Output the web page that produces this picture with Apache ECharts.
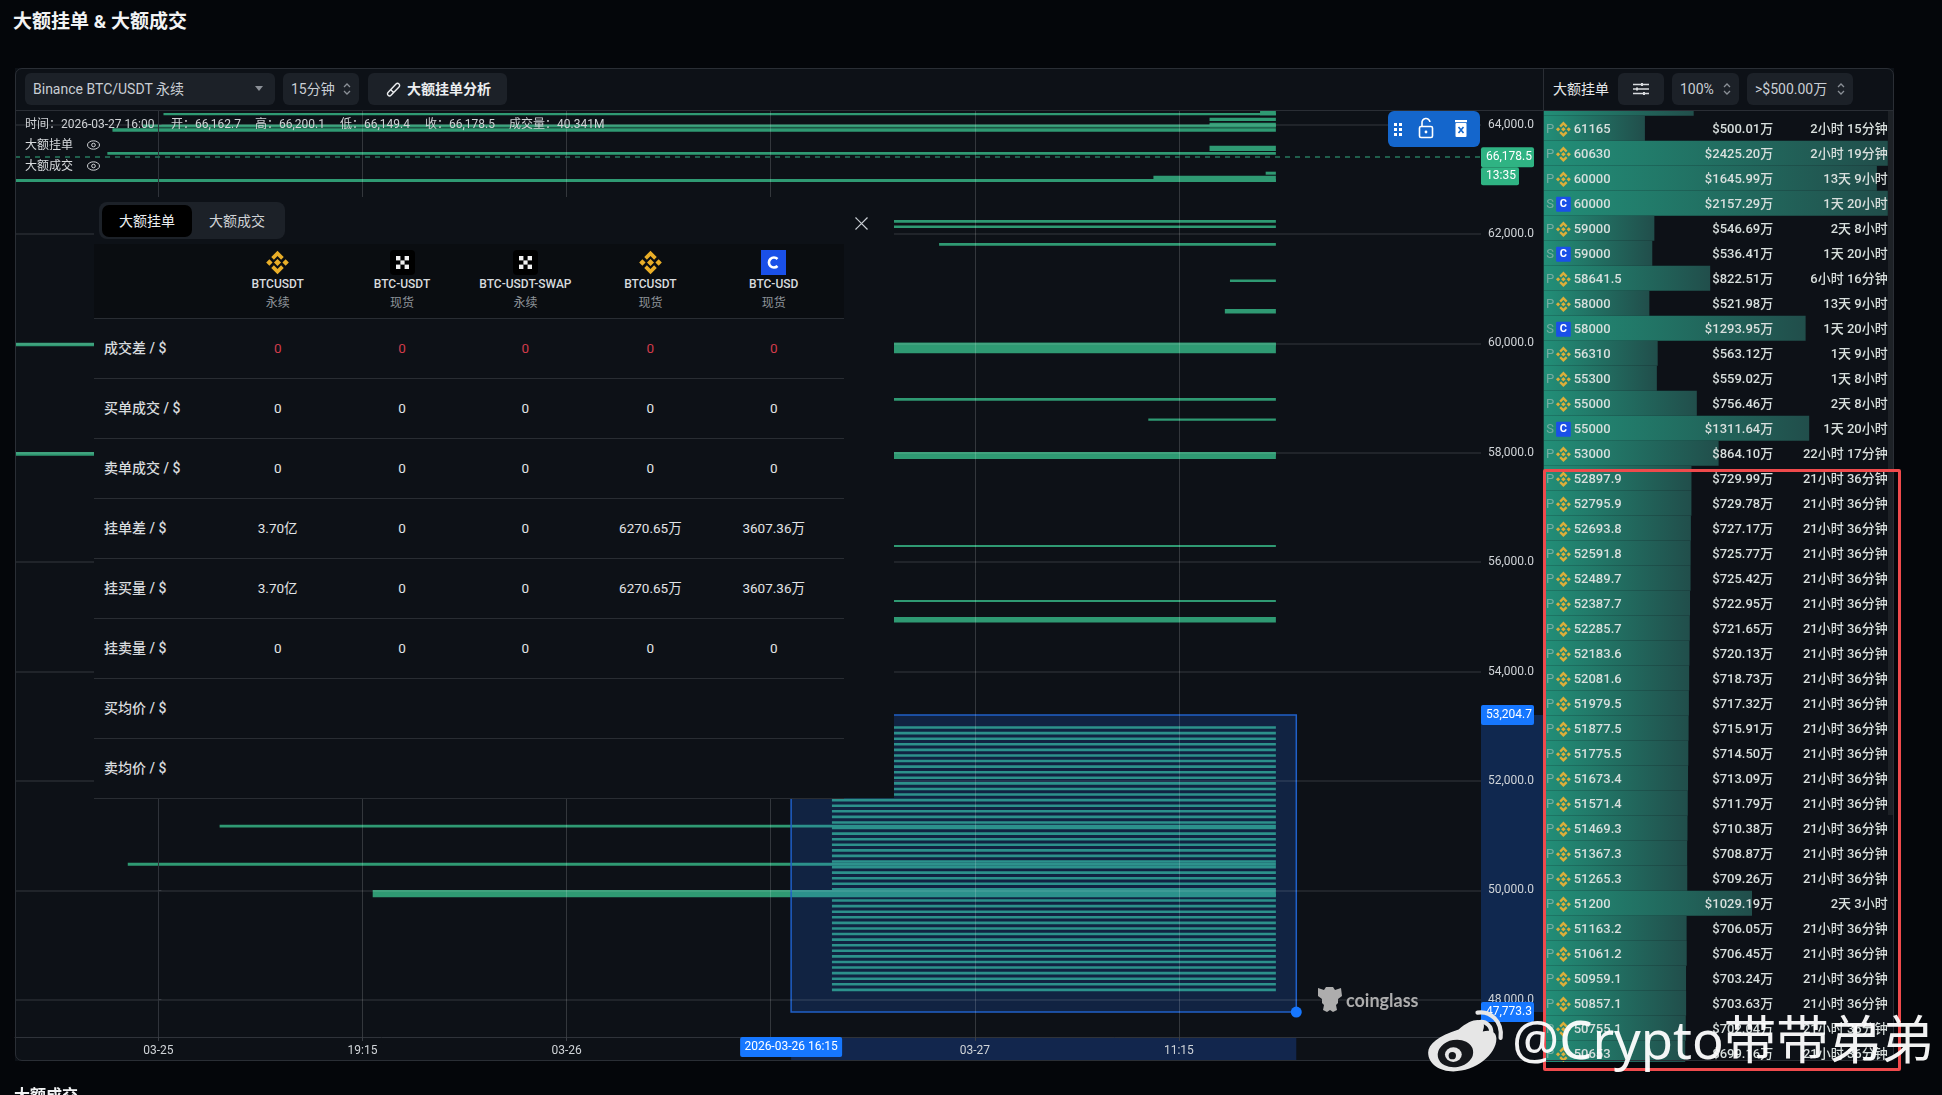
<!DOCTYPE html>
<html lang="zh">
<head>
<meta charset="utf-8">
<title>大额挂单 & 大额成交</title>
<script src="https://cdn.jsdelivr.net/npm/echarts@6/dist/echarts.min.js"></script>
<style>
html,body{margin:0;padding:0;width:1942px;height:1095px;overflow:hidden;background:#04060a;
  font-family:Roboto,"Noto Sans CJK SC",sans-serif;color:#d8dbde;}
.abs{position:absolute;white-space:nowrap;}
.updn{position:absolute;right:7px;top:8px;}
#card{position:absolute;left:15px;top:68px;width:1879px;height:993px;background:#0d1117;}
#frame{position:absolute;left:15px;top:68px;width:1879px;height:993px;box-sizing:border-box;border:1px solid #2a2e35;border-radius:7px;z-index:4;pointer-events:none;}
#chart{position:absolute;left:0;top:0;width:1942px;height:1095px;z-index:1;}
#hdr{position:absolute;left:16px;top:69px;width:1877px;background:#0d1117;border-bottom:1px solid #2a2e35;box-sizing:border-box;height:42px;z-index:2;}
#hdrsep{position:absolute;left:1543px;top:69px;width:1px;height:41px;background:#2a2e35;z-index:3;}
#cover{position:absolute;left:0;top:1062px;width:1942px;height:33px;background:#04060a;z-index:2;}
#tbl{position:absolute;left:94px;top:197px;width:800px;height:601px;background:#0d1117;z-index:2;}
#tbl .th{position:absolute;left:0;top:47px;width:750px;height:74px;background:#0a0d11;}
#tbl .ln{position:absolute;left:0;width:750px;height:1px;background:#292d33;}
#tbl .c{position:absolute;transform:translateX(-50%);font-size:13.5px;white-space:nowrap;}
#redbox{position:absolute;left:1543px;top:469px;width:358px;height:602px;box-sizing:border-box;border:3px solid #ef4a4c;border-radius:2px;z-index:5;}
#wb{position:absolute;left:1512px;top:1004px;font-size:52.5px;line-height:70px;color:rgba(255,255,255,.95);z-index:6;white-space:nowrap;font-family:"Noto Sans","Noto Sans CJK SC",sans-serif;font-weight:400;}
</style>
</head>
<body>
<div class="abs" style="left:13px;top:9px;font-size:19px;font-weight:700;color:#f2f3f4;line-height:26px;">大额挂单 &amp; 大额成交</div>
<div id="card"></div>
<div id="chart"></div>
<div id="hdr"></div>
<div id="hdrsep"></div>
<div id="cover"><div class="abs" style="left:14px;top:24px;font-size:16px;font-weight:700;color:#f2f3f4;line-height:20px;">大额成交</div></div>
<div id="frame"></div>
<div id="ui" style="position:absolute;left:0;top:0;z-index:3;"></div>
<div id="tbl"></div>
<div id="redbox"></div>
<svg class="abs" style="left:1425px;top:1006px;z-index:6;" width="84" height="72" viewBox="0 0 80 68">
  <path fill="#e6e6e6" d="M32 22c10-9 20-11 23-7 2 3 1 6 0 9 7-2 13 0 13 7 0 15-20 31-41 31C14 62 3 55 3 44c0-8 10-16 29-22z"/>
  <ellipse cx="29" cy="45" rx="17" ry="13" fill="#15171b" transform="rotate(-10 29 45)"/>
  <ellipse cx="27" cy="46" rx="8" ry="7" fill="#e6e6e6"/>
  <circle cx="26" cy="47" r="3.5" fill="#15171b"/>
  <path fill="none" stroke="#e6e6e6" stroke-width="4" stroke-linecap="round" d="M50 6c12-2 24 8 22 24M52 15c6-1 12 4 11 11"/>
</svg>
<div id="wb">@Crypto带带弟弟</div>
<svg class="abs" style="left:1317px;top:984px;z-index:3;" width="26" height="30" viewBox="0 0 26 30">
  <path fill="#adadad" d="M1 4l6 2 2-3h7l2 3 6-2 1 8-4 3v4l-2 2 1 5-4 2-3-2-3 2-4-2 1-5-2-2v-4l-4-3z"/>
</svg>
<div class="abs" style="left:1346px;top:989px;z-index:3;font-family:Lato,sans-serif;font-weight:700;font-size:18px;line-height:22px;color:#adadad;">coinglass</div>
<script>
/* large-order walls on the depth chart: start bar, price band */
var wallStart = [431.8,2,412,412,-6,-18,412,-20,434,390,-56.2,250,250,306,420,418,100,-56.2,100,388,100,-56.2,260,280,280,24,-12,84];
var wallHigh  = [64256,64214,64128,64037,64004,63934,63616,63501,63141,63067,63007,62257,62157,61837,61170,60630,60014,60014,59003,58627,58003,58015,56315,55309,55000,51200,50506,50006];
var wallLow   = [64172,64172,64068,63952,63949,63872,63519,63451,63086,62952,62952,62208,62111,61788,61124,60548,59820,59950,58953,58588,57888,57948,56280,55272,54897,51150,50450,49873];
var wallEnd = 438;
/* iceberg ladder inside the selection box */
var ladderPrices = [53000,52897.9,52795.9,52693.8,52591.8,52489.7,52387.7,52285.7,52183.6,52081.6,51979.5,51877.5,51775.5,51673.4,51571.4,51469.3,51367.3,51265.3,51163.2,51061.2,50959.1,50857.1,50755.1,50653,50551,50448.9,50346.9,50244.8,50142.8,50040.8,49938.7,49836.7,49734.6,49632.6,49530.6,49428.5,49326.5,49224.4,49122.4,49020.4,48918.3,48816.3,48714.2,48612.2,48510.2,48408.1,48306.1,48204];
var ladderStart = 264;
/* axes */
var xMin = -56.2, xMax = 518.4;
var xTicks = [0,80,160,240,320,400];
var xLabels = ["03-25","19:15","03-26","","03-27","11:15"];
var yMin = 47318, yMax = 64269;
var yTicks = [48000,50000,52000,54000,56000,58000,60000,62000,64000];
/* selection box and last price marker */
var boxFrom = 248, boxTo = 446, boxLow = 47773.3, boxHigh = 53204.7;
var boxLabelTime = "2026-03-26 16:15";
var priceLineLevel = 63407, priceLineText = "66,178.5", priceCountdown = "13:35";
/* side list */
var listPrices = ["61165","60630","60000","60000","59000","59000","58641.5","58000","58000","56310","55300","55000","55000","53000","52897.9","52795.9","52693.8","52591.8","52489.7","52387.7","52285.7","52183.6","52081.6","51979.5","51877.5","51775.5","51673.4","51571.4","51469.3","51367.3","51265.3","51200","51163.2","51061.2","50959.1","50857.1","50755.1","50653"];
var listKinds  = ["P","P","P","S","P","S","P","P","S","P","P","P","S","P","P","P","P","P","P","P","P","P","P","P","P","P","P","P","P","P","P","P","P","P","P","P","P","P"];
var listUsd    = [500.01,2425.20,1645.99,2157.29,546.69,536.41,822.51,521.98,1293.95,563.12,559.02,756.46,1311.64,864.10,729.99,729.78,727.17,725.77,725.42,722.95,721.65,720.13,718.73,717.32,715.91,714.50,713.09,711.79,710.38,708.87,709.26,1029.19,706.05,706.45,703.24,703.63,702.04,699.16];
var listAges   = ["2小时 15分钟","2小时 19分钟","13天 9小时","1天 20小时","2天 8小时","1天 20小时","6小时 16分钟","13天 9小时","1天 20小时","1天 9小时","1天 8小时","2天 8小时","1天 20小时","22小时 17分钟","21小时 36分钟","21小时 36分钟","21小时 36分钟","21小时 36分钟","21小时 36分钟","21小时 36分钟","21小时 36分钟","21小时 36分钟","21小时 36分钟","21小时 36分钟","21小时 36分钟","21小时 36分钟","21小时 36分钟","21小时 36分钟","21小时 36分钟","21小时 36分钟","21小时 36分钟","2天 3小时","21小时 36分钟","21小时 36分钟","21小时 36分钟","21小时 36分钟","21小时 36分钟","21小时 36分钟"];
var listClippedUsd = 741;
var listAxisMax = 1700;
/* summary table */
var tblCols = ["BTCUSDT","BTC-USDT","BTC-USDT-SWAP","BTCUSDT","BTC-USD"];
var tblKinds = ["永续","现货","永续","现货","现货"];
var tblIcons = ["bn","okx","okx","bn","cb"];
var tblRows = ["成交差 / $","买单成交 / $","卖单成交 / $","挂单差 / $","挂买量 / $","挂卖量 / $","买均价 / $","卖均价 / $"];
var tblDiff     = ["0","0","0","0","0"];
var tblBuyDeal  = ["0","0","0","0","0"];
var tblSellDeal = ["0","0","0","0","0"];
var tblGap      = ["3.70亿","0","0","6270.65万","3607.36万"];
var tblBid      = ["3.70亿","0","0","6270.65万","3607.36万"];
var tblAsk      = ["0","0","0","0","0"];
var tblBuyAvg   = ["","","","",""];
var tblSellAvg  = ["","","","",""];

var FONT = 'Roboto,"Noto Sans CJK SC",sans-serif';
var BN_PATH = "M16 1L24 9L20.6 12.4L16 7.8L11.4 12.4L8 9ZM16 31L24 23L20.6 19.6L16 24.2L11.4 19.6L8 23ZM1.5 16L5.6 11.9L9.7 16L5.6 20.1ZM30.5 16L26.4 11.9L22.3 16L26.4 20.1ZM16 11.5L20.5 16L16 20.5L11.5 16Z";
var UPDN = '<svg class="updn" width="10" height="16" viewBox="0 0 10 16"><path d="M2 6l3-3 3 3M2 10l3 3 3-3" fill="none" stroke="#8b9097" stroke-width="1.3"/></svg>';

function div(parent, css, html){
  var d = document.createElement("div");
  d.style.cssText = css;
  if(html != null) d.innerHTML = html;
  parent.appendChild(d);
  return d;
}
function buildToolbar(){
  var ui = document.getElementById("ui");
  div(ui, "position:absolute;left:25px;top:73px;width:250px;height:32px;line-height:32px;background:#1c2128;border-radius:6px;font-size:14px;color:#c9ced4;padding-left:8px;box-sizing:border-box;white-space:nowrap;",
    'Binance BTC/USDT 永续<svg style="position:absolute;left:230px;top:13px" width="8" height="6"><path d="M0 0h8L4 5z" fill="#8b9097"/></svg>');
  div(ui, "position:absolute;left:283px;top:73px;width:76px;height:32px;line-height:32px;background:#1c2128;border-radius:6px;font-size:14px;color:#c9ced4;padding-left:8px;box-sizing:border-box;white-space:nowrap;", "15分钟"+UPDN);
  div(ui, "position:absolute;left:368px;top:73px;width:139px;height:32px;line-height:32px;background:#1c2128;border-radius:6px;font-size:14px;font-weight:700;color:#eceef0;padding-left:39px;box-sizing:border-box;white-space:nowrap;",
    '<svg style="position:absolute;left:17px;top:8px" width="17" height="17" viewBox="0 0 17 17"><path d="M3 11.5L11 3a2 2 0 0 1 3 3L6 14.2a2 2 0 0 1-3-2.7zM6 9l3 3" fill="none" stroke="#eceef0" stroke-width="1.4"/></svg>大额挂单分析');
  div(ui, "position:absolute;left:1553px;top:80px;font-size:14px;line-height:18px;color:#e4e6e8;white-space:nowrap;", "大额挂单");
  div(ui, "position:absolute;left:1618px;top:73px;width:46px;height:32px;background:#1c2128;border-radius:6px;",
    '<svg style="position:absolute;left:15px;top:9px" width="16" height="14" viewBox="0 0 16 14"><path d="M0 2.5h16M0 7h16M0 11.5h16" stroke="#d8dbde" stroke-width="1.4"/><path d="M9 1v3M4 5.5v3M11 10v3" stroke="#d8dbde" stroke-width="2"/></svg>');
  div(ui, "position:absolute;left:1672px;top:73px;width:67px;height:32px;line-height:32px;background:#1c2128;border-radius:6px;font-size:14px;color:#c9ced4;padding-left:8px;box-sizing:border-box;white-space:nowrap;", "100%"+UPDN);
  div(ui, "position:absolute;left:1747px;top:73px;width:106px;height:32px;line-height:32px;background:#1c2128;border-radius:6px;font-size:14px;color:#c9ced4;padding-left:8px;box-sizing:border-box;white-space:nowrap;", "&gt;$500.00万"+UPDN);
  /* ohlc info line and legend */
  var infoX = [25,171,255,340,425,509];
  var infoT = ["时间：2026-03-27 16:00","开：66,162.7","高：66,200.1","低：66,149.4","收：66,178.5","成交量：40.341M"];
  infoT.forEach(function(t,i){
    div(ui, "position:absolute;left:"+infoX[i]+"px;top:116px;font-size:12px;line-height:16px;color:#d0d3d6;white-space:nowrap;", t);
  });
  var eye = '<svg style="position:absolute;left:62px;top:3px" width="13" height="10" viewBox="0 0 13 10"><ellipse cx="6.5" cy="5" rx="6" ry="4.2" fill="none" stroke="#d0d3d6" stroke-width="1"/><circle cx="6.5" cy="5" r="1.8" fill="none" stroke="#d0d3d6" stroke-width="1"/></svg>';
  div(ui, "position:absolute;left:25px;top:137px;font-size:12px;line-height:16px;color:#d8dbde;white-space:nowrap;", "大额挂单"+eye);
  div(ui, "position:absolute;left:25px;top:158px;font-size:12px;line-height:16px;color:#d8dbde;white-space:nowrap;", "大额成交"+eye);
  /* blue drawing toolbar */
  div(ui, "position:absolute;left:1388px;top:111px;width:92px;height:36px;background:#1466cc;border-radius:6px;",
    '<svg width="92" height="36" viewBox="0 0 92 36"><g fill="#fff"><rect x="6" y="12" width="3" height="3"/><rect x="11" y="12" width="3" height="3"/><rect x="6" y="17" width="3" height="3"/><rect x="11" y="17" width="3" height="3"/><rect x="6" y="22" width="3" height="3"/><rect x="11" y="22" width="3" height="3"/></g>'+
    '<rect x="31.5" y="15.5" width="13" height="11" rx="1.5" fill="none" stroke="#fff" stroke-width="1.6"/><path d="M34 15v-3a4 4 0 0 1 8-1" fill="none" stroke="#fff" stroke-width="1.6"/><circle cx="38" cy="21" r="1.4" fill="#fff"/>'+
    '<rect x="67" y="9" width="12" height="2.2" fill="#fff"/><rect x="67.5" y="12" width="11" height="14" rx="1" fill="#fff"/><path d="M70.5 16l5 6M75.5 16l-5 6" stroke="#1466cc" stroke-width="1.6"/></svg>');
  /* list scrollbar */
  div(ui, "position:absolute;left:1888px;top:111px;width:5px;height:704px;background:#1d2126;");
}
function iconSvg(kind){
  if(kind==="bn") return '<svg width="25" height="25" viewBox="0 0 32 32"><path fill="#e9ae28" d="'+BN_PATH+'"/></svg>';
  if(kind==="okx") return '<svg width="25" height="25" viewBox="0 0 25 25"><rect width="25" height="25" rx="4" fill="#000"/><g fill="#f2f2f2"><rect x="6" y="6" width="4.4" height="4.4"/><rect x="14.6" y="6" width="4.4" height="4.4"/><rect x="10.4" y="10.4" width="4.2" height="4.2"/><rect x="6" y="14.6" width="4.4" height="4.4"/><rect x="14.6" y="14.6" width="4.4" height="4.4"/></g></svg>';
  return '<svg width="25" height="25" viewBox="0 0 25 25"><rect width="25" height="25" fill="#1a50e8"/><path d="M16.5 9a5 5 0 1 0 0 7" fill="none" stroke="#fff" stroke-width="2.6"/></svg>';
}
function buildTable(){
  var t = document.getElementById("tbl");
  var colX = [183.7,308,431.4,556.4,679.7];
  var rowVals = [tblDiff,tblBuyDeal,tblSellDeal,tblGap,tblBid,tblAsk,tblBuyAvg,tblSellAvg];
  div(t, "", "").className = "th";
  /* tabs */
  div(t, "position:absolute;left:5px;top:5px;width:186px;height:37px;background:#1c2128;border-radius:8px;");
  div(t, "position:absolute;left:8px;top:8px;width:90px;height:32px;line-height:32px;background:#000;border-radius:7px;text-align:center;font-size:14px;color:#eceef0;", "大额挂单");
  div(t, "position:absolute;left:98px;top:8px;width:90px;height:32px;line-height:32px;text-align:center;font-size:14px;color:#d0d3d6;", "大额成交");
  div(t, "position:absolute;left:761px;top:18px;", '<svg width="13" height="13"><path d="M.5.5l12 12M12.5.5l-12 12" stroke="#c9ced4" stroke-width="1.2"/></svg>');
  tblCols.forEach(function(c,i){
    var x = colX[i];
    div(t, "position:absolute;left:"+(x-12.5)+"px;top:53px;width:25px;height:25px;", iconSvg(tblIcons[i]));
    var a = div(t, "left:"+x+"px;top:78px;line-height:18px;font-weight:500;color:#d8dbde;", c); a.className="c"; a.style.fontSize="12px";
    var b = div(t, "left:"+x+"px;top:97px;line-height:18px;color:#8e9399;", tblKinds[i]); b.className="c"; b.style.fontSize="12px";
  });
  tblRows.forEach(function(r,j){
    var top = 121 + j*60;
    var ln = div(t, "top:"+top+"px;"); ln.className="ln";
    div(t, "position:absolute;left:10px;top:"+top+"px;line-height:60px;font-size:14px;font-weight:500;color:#d8dbde;white-space:nowrap;", r);
    rowVals[j].forEach(function(v,i){
      var col = j===0 ? "#d13c4b" : "#e2e4e6";
      var c = div(t, "left:"+colX[i]+"px;top:"+top+"px;line-height:60px;color:"+col+";", v); c.className="c";
    });
  });
  var last = div(t, "top:601px;"); last.className="ln";
}
buildToolbar();
buildTable();

function renderWall(params, api){
  var a = api.coord([api.value(0), api.value(2)]);
  var b = api.coord([api.value(1), api.value(3)]);
  return { type:"rect", shape:{x:a[0], y:a[1], width:b[0]-a[0], height:Math.max(b[1]-a[1],1)},
    style:{fill:"#2f9a73"} };
}
function renderLadder(params, api){
  var a = api.coord([api.value(0), api.value(2)]);
  var b = api.coord([api.value(1), api.value(2)]);
  return { type:"rect", shape:{x:a[0], y:a[1], width:b[0]-a[0], height:2.6}, style:{fill:"#2f9a73"} };
}
function renderBox(params, api){
  var a = api.coord([api.value(0), api.value(3)]);
  var b = api.coord([api.value(1), api.value(2)]);
  return { type:"group", children:[
    { type:"rect", shape:{x:a[0], y:a[1], width:b[0]-a[0], height:b[1]-a[1]},
      style:{fill:"rgba(33,110,240,0.2)", stroke:"#2060c8", lineWidth:1.5} },
    { type:"circle", shape:{cx:b[0], cy:b[1], r:5.5}, style:{fill:"#1677ff"} }
  ]};
}
function renderBands(params, api){
  /* projection of the selection box on both axes */
  var a = api.coord([api.value(0), api.value(3)]);
  var b = api.coord([api.value(1), api.value(2)]);
  var axisX = api.coord([xMax, yMin]);
  return { type:"group", children:[
    { type:"rect", shape:{x:axisX[0], y:a[1], width:62, height:b[1]-a[1]}, style:{fill:"#10284f"} },
    { type:"rect", shape:{x:a[0], y:axisX[1], width:b[0]-a[0], height:24}, style:{fill:"#12264d"} }
  ]};
}
function tag(x, y, w, h, bg, text){
  return { type:"group", children:[
    { type:"rect", shape:{x:x, y:y, width:w, height:h, r:2}, style:{fill:bg} },
    { type:"text", style:{x:x+5, y:y+h/2, text:text, fill:"#fff", font:"12px "+FONT, textAlign:"left", textVerticalAlign:"middle"} }
  ]};
}
function renderTags(params, api){
  var hi = api.coord([xMax, boxHigh]);
  var lo = api.coord([xMax, boxLow]);
  var px = api.coord([xMax, priceLineLevel]);
  var bl = api.coord([boxFrom, yMin]);
  var kids = [
    tag(hi[0], hi[1]-10, 53, 20, "#1677ff", (53204.7).toLocaleString("en-US")),
    tag(lo[0], lo[1]-10, 53, 20, "#1677ff", (47773.3).toLocaleString("en-US")),
    tag(px[0], px[1]-10, 53, 20, "#2fb383", priceLineText),
    tag(px[0], px[1]+10, 38, 18, "#2fb383", priceCountdown)
  ];
  kids.push({ type:"group", children:[
    { type:"rect", shape:{x:bl[0]-51, y:bl[1], width:102, height:20, r:2}, style:{fill:"#1677ff"} },
    { type:"text", style:{x:bl[0], y:bl[1]+10, text:boxLabelTime, fill:"#fff", font:"12px "+FONT, textAlign:"center", textVerticalAlign:"middle"} }
  ]});
  return { type:"group", children:kids };
}
function renderListRow(params, api){
  var i = api.value(0);
  var c = api.coord([0, i+1]);
  var x = c[0], y = c[1]+1;
  var kind = listKinds[i];
  var kids = [
    { type:"text", style:{x:x+6.5, y:y, text:kind, fill:"rgba(190,200,200,0.55)", font:"13px "+FONT, textAlign:"center", textVerticalAlign:"middle"} },
    { type:"text", style:{x:x+30, y:y, text:listPrices[i], fill:"#d8dfdd", font:"500 13px "+FONT, textAlign:"left", textVerticalAlign:"middle"} },
    { type:"text", style:{x:x+229.5, y:y, text:"$"+listUsd[i].toFixed(2)+"万", fill:"#d8dfdd", font:"500 13px "+FONT, textAlign:"right", textVerticalAlign:"middle"} },
    { type:"text", style:{x:x+344, y:y, text:listAges[i], fill:"#d8dfdd", font:"500 13px "+FONT, textAlign:"right", textVerticalAlign:"middle"} }
  ];
  if(kind==="P"){
    kids.push({ type:"path", shape:{pathData:BN_PATH, x:x+12, y:y-7.7, width:15.4, height:15.4}, style:{fill:"#dcae3a"} });
  } else {
    kids.push({ type:"rect", shape:{x:x+12.4, y:y-7.5, width:14.7, height:15, r:1}, style:{fill:"#1a50e8"} });
    kids.push({ type:"text", style:{x:x+19.7, y:y, text:"C", fill:"#fff", font:"700 11px "+FONT, textAlign:"center", textVerticalAlign:"middle"} });
  }
  return { type:"group", children:kids };
}

var ch = echarts.init(document.getElementById("chart"), null, {renderer:"canvas"});
var wallData = wallStart.map(function(s,i){ return [s, wallEnd, wallHigh[i], wallLow[i]]; });
var ladderData = ladderPrices.map(function(p){ return [ladderStart, wallEnd, p]; });
var boxData = [[boxFrom, boxTo, boxLow, boxHigh]];
var listBarColor = new echarts.graphic.LinearGradient(0,0,1,0,[{offset:0,color:"#228f78"},{offset:1,color:"#214e4b"}]);
var encodeXY = {x:[0,1], y:[2,3]};
ch.setOption({
  animation:false,
  backgroundColor:"transparent",
  textStyle:{fontFamily:FONT},
  grid:[
    { left:15, top:110, width:1466, height:927, containLabel:false },
    { left:1543.7, top:90.8, width:344.1, height:975, containLabel:false }
  ],
  xAxis:[
    { type:"value", gridIndex:0, min:xMin, max:xMax, z:4,
      axisLine:{show:true, lineStyle:{color:"#2f333a"}},
      axisTick:{show:true, length:4, customValues:xTicks, lineStyle:{color:"#3a3e45"}},
      axisLabel:{customValues:xTicks, color:"#d0d4d8", fontSize:12, margin:8,
        formatter:function(v){ return xLabels[xTicks.indexOf(v)] || ""; }},
      splitLine:{show:true, lineStyle:{color:"rgba(255,255,255,0.16)", width:1}} },
    { type:"value", gridIndex:1, min:0, max:listAxisMax, show:false, splitLine:{show:false} }
  ],
  yAxis:[
    { type:"value", gridIndex:0, position:"right", min:yMin, max:yMax, z:4,
      axisLine:{show:true, lineStyle:{color:"#2f333a"}},
      axisTick:{show:true, length:3, customValues:yTicks, lineStyle:{color:"#3a3e45"}},
      axisLabel:{customValues:yTicks, color:"#d0d4d8", fontSize:12, margin:7,
        formatter:function(v){ return v.toLocaleString("en-US",{minimumFractionDigits:1}); }},
      splitLine:{show:true, lineStyle:{color:"rgba(255,255,255,0.11)", width:1.5}} },
    { type:"category", gridIndex:1, inverse:true, show:false, data:[""].concat(listPrices) }
  ],
  series:[
    { type:"custom", name:"bands", xAxisIndex:0, yAxisIndex:0, z:1, silent:true, renderItem:renderBands, encode:encodeXY, data:boxData },
    { type:"custom", name:"大额挂单", xAxisIndex:0, yAxisIndex:0, z:2, clip:true, silent:true, renderItem:renderWall, encode:encodeXY, data:wallData },
    { type:"custom", name:"ladder", xAxisIndex:0, yAxisIndex:0, z:2, clip:true, silent:true, renderItem:renderLadder, encode:{x:[0,1], y:2}, data:ladderData },
    { type:"custom", name:"box", xAxisIndex:0, yAxisIndex:0, z:3, silent:true, renderItem:renderBox, encode:encodeXY, data:boxData },
    { type:"line", name:"last", xAxisIndex:0, yAxisIndex:0, z:3, silent:true, data:[], symbol:"none",
      markLine:{ silent:true, symbol:"none", label:{show:false},
        lineStyle:{color:"#27795f", type:[5,5], width:1.5}, data:[{yAxis:priceLineLevel}] } },
    { type:"custom", name:"tags", xAxisIndex:0, yAxisIndex:0, z:6, silent:true, renderItem:renderTags, encode:encodeXY, data:boxData },
    { type:"bar", name:"list", xAxisIndex:1, yAxisIndex:1, z:2, silent:true, barCategoryGap:0, barWidth:"100%",
      itemStyle:{color:listBarColor}, data:[listClippedUsd].concat(listUsd) },
    { type:"custom", name:"listRows", xAxisIndex:1, yAxisIndex:1, z:5, silent:true, renderItem:renderListRow,
      data:listPrices.map(function(p,i){ return [i]; }), encode:{y:0} }
  ]
});
</script>
</body>
</html>
